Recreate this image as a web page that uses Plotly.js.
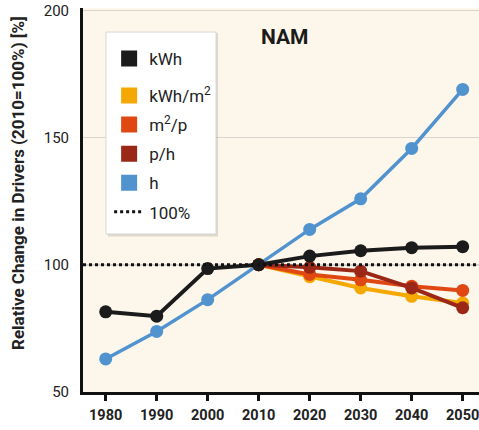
<!DOCTYPE html>
<html>
<head>
<meta charset="utf-8">
<script src="https://cdn.plot.ly/plotly-3.0.1.min.js"></script>
<style>html,body{margin:0;padding:0;background:#fff;}#chart{width:479px;height:430px;}</style>
</head>
<body>
<div id="chart"></div>
<script>
const years = [1980, 1990, 2000, 2010, 2020, 2030, 2040, 2050];
const futureYears = [2010, 2020, 2030, 2040, 2050];
const kWh = [81.5, 79.8, 98.5, 100, 103.4, 105.5, 106.7, 107.1];
const h = [63, 73.8, 86.3, 100, 113.9, 125.9, 145.7, 168.9];
const kWhPerM2 = [100, 95.3, 90.9, 87.6, 85];
const m2PerP = [100, 96.2, 94.1, 91.6, 89.9];
const pPerH = [100, 99, 97.5, 90.9, 83.1];
const baseline = 100;
const regionLabel = 'NAM';
const yTickVals = [50, 100, 150, 200];
const xTickVals = years;

const C = {kWh:'#1b1b1b', kWhm2:'#f5a800', m2p:'#e04813', ph:'#9b2817', h:'#5093cf'};
const FONT = 'Roboto, "Noto Sans", sans-serif';

function series(x, y, color, lw) {
  return {x: x, y: y, type: 'scatter', mode: 'lines+markers', showlegend: false, hoverinfo: 'skip',
    line: {color: color, width: lw}, marker: {color: color, size: 13}};
}
function legendSquare(name, color, leg) {
  return {x: [null], y: [null], type: 'scatter', mode: 'markers', name: name, legend: leg,
    legendgroup: name, marker: {symbol: 'square', color: color, size: 16, line: {color: color, width: 0}}};
}

const data = [
  series(years, h, C.h, 3.5),
  series(futureYears, kWhPerM2, C.kWhm2, 4),
  series(futureYears, m2PerP, C.m2p, 4),
  series(futureYears, pPerH, C.ph, 4),
  series(years, kWh, C.kWh, 4),
  legendSquare('kWh', C.kWh, 'legend'),
  legendSquare('kWh/m<sup>2</sup>', C.kWhm2, 'legend2'),
  legendSquare('m<sup>2</sup>/p', C.m2p, 'legend2'),
  legendSquare('p/h', C.ph, 'legend2'),
  legendSquare('h', C.h, 'legend2'),
  {x: [null], y: [null], type: 'scatter', mode: 'lines', name: '100%', legend: 'legend2', legendgroup: 'base',
    line: {color: '#111', width: 3, dash: 'dot'}}
];

const legFont = {family: FONT, size: 17, color: '#222'};
const layout = {
  width: 479, height: 430,
  margin: {l: 83, r: 0, t: 8, b: 38},
  paper_bgcolor: '#ffffff',
  plot_bgcolor: '#fdf6ea',
  font: {family: FONT, color: '#222'},
  xaxis: {
    range: [1975.55, 2053.2], tickvals: xTickVals, ticks: 'outside', ticklen: 6, tickwidth: 2.5, tickcolor: '#111',
    showline: true, linecolor: '#111', linewidth: 3, showgrid: false, zeroline: false, ticklabelstandoff: 2,
    ticklabeloverflow: 'allow',
    tickfont: {family: FONT, size: 14.5, weight: 'bold', color: '#222'}
  },
  yaxis: {
    range: [50, 200.9], tickvals: yTickVals, ticks: '', showline: true, linecolor: '#111', linewidth: 3,
    showgrid: true, gridcolor: '#d9d5ce', gridwidth: 1.5, zeroline: false, ticklabelstandoff: 8,
    tickfont: {family: FONT, size: 15, color: '#222'}
  },
  shapes: [
    {type: 'line', xref: 'paper', yref: 'y', x0: 0, x1: 1, y0: baseline, y1: baseline,
     line: {color: '#111', width: 3, dash: 'dot'}},
    {type: 'rect', xref: 'paper', yref: 'paper', x0: 0.063, x1: 0.341, y0: 0.405, y1: 0.934,
     fillcolor: 'rgba(0,0,0,0.12)', line: {width: 0}},
    {type: 'rect', xref: 'paper', yref: 'paper', x0: 0.058, x1: 0.336, y0: 0.4115, y1: 0.9375,
     fillcolor: '#ffffff', line: {color: '#d6d6d6', width: 1}}
  ],
  legend: {x: 0.066, xanchor: 'left', y: 0.867, yanchor: 'middle', bgcolor: 'rgba(0,0,0,0)',
    font: legFont, itemwidth: 30},
  legend2: {x: 0.066, xanchor: 'left', y: 0.62, yanchor: 'middle', bgcolor: 'rgba(0,0,0,0)',
    font: legFont, itemwidth: 30, tracegroupgap: 4},
  annotations: [
    {text: regionLabel, xref: 'paper', yref: 'paper', x: (285 - 83) / 396, y: (392 - 37) / 384,
     xanchor: 'center', yanchor: 'middle',
     showarrow: false, font: {family: FONT, size: 21, weight: 'bold', color: '#1b1b1b'}},
    {text: 'Relative Change in Drivers (2010=100%) [%]', xref: 'paper', yref: 'paper', textangle: -90,
     x: (18 - 83) / 396, y: (392 - 183) / 384, xanchor: 'center', yanchor: 'middle', showarrow: false,
     font: {family: FONT, size: 17, weight: 'bold', color: '#222'}}
  ]
};

Plotly.newPlot('chart', data, layout, {displayModeBar: false, staticPlot: true});
</script>
</body>
</html>
